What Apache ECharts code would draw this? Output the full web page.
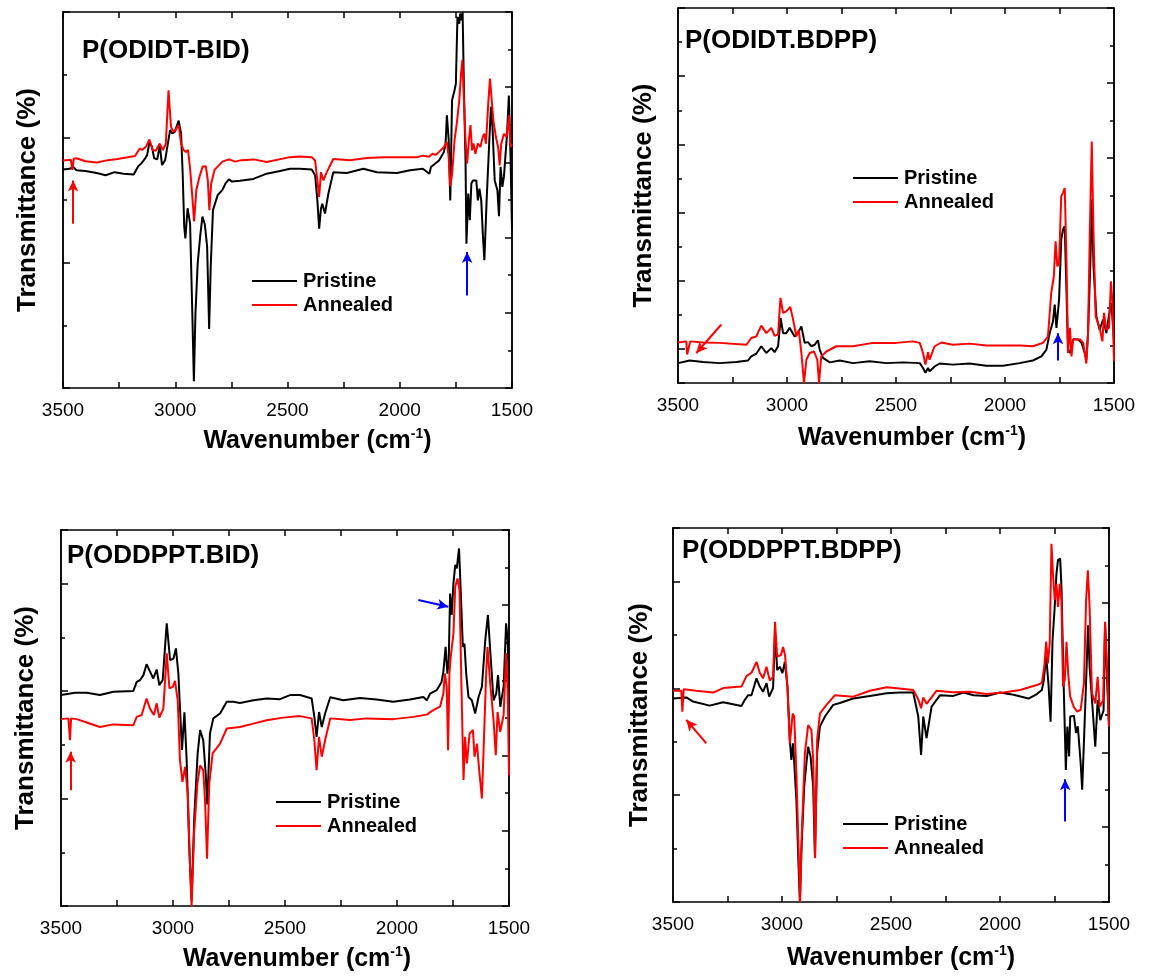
<!DOCTYPE html>
<html>
<head>
<meta charset="utf-8">
<script src="https://cdn.jsdelivr.net/npm/echarts@6.0.0/dist/echarts.min.js"></script>
<style>
html,body{margin:0;padding:0;background:#fff;}
#chart{width:1173px;height:978px;}
</style>
</head>
<body>
<div id="chart"></div>
<script>
// ---------- data (wavenumber cm-1, relative transmittance) ----------
const seriesNames = ['Pristine', 'Annealed'];
const panelTitles = ['P(ODIDT-BID)', 'P(ODIDT.BDPP)', 'P(ODDPPT.BID)', 'P(ODDPPT.BDPP)'];
const xMin = 1500, xMax = 3500, xStep = 500;

const p1Pristine = [[3500,58.1],[3470,58.3],[3455,58.8],[3440,57.9],[3400,57.7],[3350,57.2],[3310,56.6],[3270,57.4],[3230,57.0],[3185,56.8],
[3165,59.0],[3150,59.8],[3135,61.0],[3125,62.0],[3115,65.3],[3104,64.2],[3094,61.1],[3080,60.8],[3069,64.6],[3059,59.3],[3045,60.6],[3033,65.0],[3023,68.6],[3013,67.7],[3002,68.1],[2985,71.1],[2974,67.7],[2967,57.1],[2960,42.9],[2955,39.8],[2945,47.8],[2934,43.8],[2924,19.9],[2917,1.8],[2910,19.9],[2900,33.2],[2889,40.3],[2879,45.6],[2868,43.4],[2858,37.6],[2849,15.7],[2842,32.3],[2832,47.3],[2811,51.3],[2790,52.7],[2776,54.4],[2761,55.5],[2747,54.9],[2712,55.1],[2652,55.6],[2593,57.0],[2533,57.7],[2489,58.3],[2444,58.3],[2392,58.1],[2377,56.6],[2367,49.9],[2359,42.4],[2351,47.7],[2345,49.0],[2333,46.4],[2318,51.7],[2296,57.4],[2236,57.2],[2162,58.3],[2102,57.4],[2013,57.2],[1954,57.9],[1897,58.3],[1868,57.0],[1861,58.8],[1825,60.5],[1803,62.8],[1796,65.0],[1790,72.5],[1782,65.9],[1775,49.9],[1767,76.5],[1756,79.2],[1750,80.9],[1743,98.7],[1735,96.9],[1731,99.6],[1724,97.8],[1720,100],[1714,79.2],[1707,60.5],[1703,38.4],[1695,51.7],[1688,44.6],[1681,54.4],[1674,55.2],[1659,55.2],[1652,49.9],[1645,53.0],[1637,49.9],[1630,41.0],[1623,34.0],[1613,49.9],[1601,65.9],[1594,74.8],[1587,69.5],[1577,55.2],[1565,52.6],[1558,45.7],[1551,58.8],[1543,53.5],[1536,56.2],[1522,67.6],[1514,77.8],[1507,62.8],[1500,41.9]];
const p1Annealed = [[3500,60.5],[3465,60.7],[3458,58.0],[3452,61.0],[3440,61.1],[3400,60.3],[3350,60.0],[3300,60.6],[3257,60.9],[3179,61.7],[3158,63.7],[3147,63.3],[3130,64.2],[3115,66.1],[3101,63.3],[3087,63.1],[3069,65.0],[3055,63.3],[3042,65.0],[3030,79.2],[3019,69.5],[3009,68.1],[2999,68.6],[2985,69.9],[2974,65.0],[2963,63.3],[2953,62.8],[2943,63.3],[2934,58.4],[2924,50.9],[2916,44.3],[2906,52.7],[2892,56.2],[2878,58.9],[2864,59.0],[2855,55.3],[2848,47.3],[2840,54.4],[2825,58.0],[2790,60.2],[2761,60.8],[2733,60.2],[2705,60.6],[2650,60.8],[2593,60.1],[2489,61.4],[2444,61.6],[2392,61.4],[2377,60.5],[2367,55.2],[2359,50.8],[2351,57.4],[2340,55.2],[2325,57.4],[2296,60.9],[2222,60.6],[2147,61.2],[2073,61.4],[1998,61.4],[1923,61.4],[1897,61.8],[1870,61.5],[1854,62.3],[1840,62.0],[1825,62.8],[1803,64.1],[1790,65.4],[1782,61.4],[1775,53.7],[1767,56.7],[1756,65.9],[1746,70.3],[1735,76.5],[1727,83.5],[1721,87.3],[1714,76.5],[1707,65.9],[1700,59.7],[1692,65.9],[1685,69.9],[1678,63.2],[1671,65.0],[1663,62.3],[1652,65.0],[1641,64.1],[1630,66.8],[1623,67.6],[1616,65.0],[1605,76.5],[1598,82.3],[1590,81.9],[1583,71.2],[1572,66.8],[1562,64.1],[1555,59.2],[1548,64.9],[1536,67.6],[1524,66.8],[1519,69.4],[1513,72.5],[1507,64.1],[1500,65.0]];
const p1RedArrow = [[3455,43.7],[3455,55.2]];
const p1BlueArrow = [[1700,24.6],[1700,36.2]];

const p2Pristine = [[3500,5.3],[3446,6.0],[3385,5.6],[3309,5.3],[3232,5.6],[3179,6.0],[3164,7.1],[3141,7.8],[3118,9.8],[3095,8.0],[3072,9.3],[3057,8.2],[3041,9.8],[3029,17.3],[3018,13.3],[3003,13.3],[2988,14.7],[2980,15.1],[2965,12.4],[2950,13.3],[2934,15.1],[2919,10.7],[2904,10.9],[2888,9.8],[2873,10.2],[2858,11.4],[2850,8.9],[2835,6.7],[2804,5.5],[2758,6.0],[2697,5.3],[2621,5.8],[2544,5.3],[2468,5.5],[2391,5.3],[2376,4.0],[2365,2.7],[2353,4.0],[2346,3.1],[2323,4.4],[2300,5.2],[2239,4.9],[2162,5.2],[2086,4.6],[2009,4.6],[1933,5.3],[1872,6.0],[1833,7.1],[1810,8.9],[1795,13.3],[1780,16.4],[1772,20.9],[1764,14.7],[1752,22.2],[1742,38.2],[1734,40.9],[1726,41.8],[1719,26.7],[1711,8.9],[1702,8.0],[1687,11.7],[1664,11.6],[1649,10.7],[1634,8.0],[1627,6.2],[1619,13.3],[1609,31.1],[1601,48.9],[1594,31.1],[1581,17.8],[1566,14.2],[1550,16.9],[1535,13.3],[1519,19.6],[1512,21.3],[1500,11.6]];
const p2Annealed = [[3500,10.8],[3462,11.1],[3458,7.6],[3450,7.6],[3444,11.1],[3385,10.8],[3309,10.7],[3186,10.2],[3164,12.0],[3141,12.4],[3118,15.3],[3095,13.3],[3072,14.7],[3057,12.6],[3041,12.9],[3030,22.7],[3018,18.7],[3003,19.1],[2985,20.3],[2972,16.9],[2957,12.4],[2946,14.2],[2934,8.0],[2922,0],[2911,6.2],[2896,8.0],[2876,8.4],[2861,6.2],[2853,0],[2843,7.1],[2819,8.4],[2774,9.8],[2697,9.8],[2606,10.7],[2499,10.7],[2422,11.1],[2391,10.7],[2376,8.0],[2365,4.9],[2353,8.2],[2346,6.2],[2323,9.8],[2292,10.8],[2239,10.2],[2162,10.5],[2086,10.0],[1933,10.0],[1872,9.8],[1826,10.7],[1803,12.4],[1788,24.0],[1776,28.4],[1768,37.8],[1760,31.1],[1752,32.0],[1742,49.8],[1734,50.7],[1726,52.0],[1719,35.6],[1711,8.0],[1702,14.7],[1695,7.1],[1687,11.6],[1672,11.6],[1656,11.6],[1641,10.7],[1634,8.0],[1627,5.2],[1619,13.3],[1611,40.0],[1602,64.4],[1594,40.0],[1584,17.8],[1566,14.7],[1553,11.1],[1546,18.7],[1535,14.2],[1523,14.7],[1514,27.1],[1508,22.2],[1500,5.8]];
const p2RedArrow = [[3301,15.6],[3416,8.0]];
const p2BlueArrow = [[1757,6.0],[1757,13.3]];

const p3Pristine = [[3500,56.1],[3437,56.7],[3385,56.7],[3326,56.1],[3266,57.0],[3177,57.2],[3162,59.6],[3147,60.1],[3132,61.4],[3118,64.3],[3103,62.4],[3088,60.5],[3073,62.9],[3061,58.7],[3046,60.1],[3028,75.2],[3013,65.4],[2998,65.8],[2987,68.5],[2976,61.8],[2969,53.0],[2960,41.5],[2949,51.5],[2939,38.8],[2927,14.9],[2917,1.5],[2905,23.7],[2890,40.6],[2879,46.8],[2865,44.1],[2854,35.2],[2847,27.0],[2835,45.9],[2820,49.9],[2790,51.2],[2760,54.3],[2731,54.3],[2701,54.0],[2641,54.7],[2582,55.2],[2522,55.0],[2478,56.1],[2433,56.1],[2381,55.2],[2369,50.3],[2359,45.0],[2348,51.6],[2336,47.6],[2321,51.2],[2298,55.5],[2240,54.7],[2165,55.3],[2091,54.9],[2017,54.3],[1942,54.9],[1882,55.6],[1867,54.7],[1852,56.5],[1823,57.4],[1801,59.6],[1793,62.3],[1783,68.9],[1775,61.8],[1769,65.4],[1763,83.1],[1756,77.4],[1748,85.8],[1740,90.7],[1733,89.8],[1723,95.1],[1714,81.4],[1706,68.9],[1699,69.8],[1691,61.8],[1681,55.6],[1666,54.7],[1651,51.2],[1636,55.6],[1621,58.3],[1606,70.7],[1594,77.4],[1584,68.1],[1569,54.7],[1557,56.5],[1549,61.4],[1539,53.0],[1524,58.3],[1513,75.2],[1506,70.7],[1500,57.0]];
const p3Annealed = [[3500,49.7],[3467,49.9],[3460,44.1],[3455,49.9],[3430,49.7],[3385,48.8],[3326,47.6],[3266,48.3],[3177,48.1],[3162,50.3],[3140,50.8],[3118,55.2],[3103,52.5],[3085,50.8],[3073,53.9],[3061,50.1],[3043,52.5],[3028,67.2],[3016,57.9],[3001,58.3],[2991,59.9],[2979,54.7],[2969,38.8],[2958,33.0],[2946,37.0],[2934,29.9],[2924,10.4],[2917,0],[2906,19.3],[2891,32.6],[2879,37.4],[2865,36.1],[2857,28.1],[2848,12.6],[2838,32.6],[2823,40.6],[2790,43.2],[2760,47.2],[2701,47.6],[2641,48.5],[2582,49.4],[2508,50.1],[2433,50.5],[2381,49.9],[2369,44.1],[2359,36.1],[2348,45.0],[2336,39.7],[2321,44.1],[2298,49.9],[2210,49.5],[2135,49.9],[2017,49.7],[1927,50.3],[1867,50.9],[1838,52.1],[1808,53.0],[1793,56.5],[1786,61.8],[1778,58.3],[1772,41.4],[1766,61.8],[1760,66.3],[1748,72.5],[1740,84.9],[1730,87.1],[1721,84.0],[1711,54.7],[1703,33.5],[1696,45.0],[1688,37.9],[1676,45.9],[1661,46.8],[1654,39.7],[1643,43.2],[1633,36.1],[1621,28.6],[1611,45.9],[1602,61.8],[1596,68.9],[1584,59.2],[1569,49.4],[1559,40.1],[1551,51.6],[1539,46.3],[1524,50.8],[1513,67.2],[1506,57.4],[1500,34.8]];
const p3RedArrow = [[3457,30.8],[3457,41.0]];
const p3BlueArrow = [[1905,81.4],[1771,79.6]];

const p4Pristine = [[3500,54.4],[3439,54.7],[3408,53.6],[3332,52.5],[3270,53.4],[3186,52.4],[3171,54.0],[3155,55.3],[3140,55.3],[3117,59.8],[3102,57.6],[3087,56.2],[3071,58.5],[3059,54.9],[3041,57.2],[3032,71.8],[3022,62.0],[3010,62.9],[2998,61.2],[2987,64.2],[2975,57.6],[2964,43.3],[2957,38.0],[2949,42.4],[2941,42.0],[2934,27.2],[2924,9.5],[2918,0],[2911,14.0],[2898,30.9],[2888,37.1],[2880,41.5],[2869,38.9],[2857,30.9],[2849,12.2],[2839,39.8],[2826,46.9],[2803,49.6],[2765,52.7],[2735,53.2],[2673,54.4],[2597,55.1],[2520,55.8],[2459,56.0],[2398,56.0],[2375,49.6],[2362,39.3],[2352,49.6],[2337,43.8],[2314,52.2],[2275,55.3],[2214,55.1],[2168,56.0],[2121,55.3],[2061,55.1],[2000,56.0],[1938,55.4],[1869,54.4],[1831,55.6],[1808,56.7],[1800,59.0],[1788,65.6],[1777,57.8],[1768,48.2],[1759,70.0],[1750,78.0],[1741,87.8],[1734,91.4],[1724,91.8],[1718,84.2],[1710,62.9],[1698,35.3],[1691,46.9],[1683,38.9],[1678,49.6],[1661,49.8],[1651,45.2],[1643,47.0],[1630,37.2],[1623,30.0],[1608,54.0],[1596,74.0],[1589,62.9],[1578,54.0],[1563,41.5],[1552,54.0],[1540,48.6],[1525,51.2],[1518,74.5],[1510,61.0],[1500,46.9]];
const p4Annealed = [[3500,56.5],[3462,56.5],[3457,50.9],[3451,56.9],[3393,56.5],[3316,56.0],[3270,57.2],[3186,57.6],[3163,60.4],[3140,61.3],[3117,64.2],[3102,61.3],[3087,59.8],[3071,62.9],[3056,59.2],[3041,60.2],[3032,74.9],[3022,65.6],[3005,66.0],[2995,68.2],[2986,66.0],[2975,57.6],[2964,42.4],[2951,50.4],[2944,49.6],[2934,34.4],[2924,14.0],[2917,0],[2909,18.4],[2895,39.8],[2880,47.3],[2865,46.0],[2857,38.0],[2848,11.7],[2839,43.3],[2826,50.4],[2796,52.7],[2757,55.3],[2673,54.9],[2597,56.5],[2520,57.4],[2428,56.9],[2398,56.7],[2375,54.2],[2362,51.8],[2352,54.7],[2337,53.0],[2314,54.7],[2291,56.5],[2214,56.1],[2138,56.2],[2061,55.6],[1985,56.0],[1908,56.7],[1831,58.0],[1808,58.6],[1797,62.9],[1788,69.6],[1780,63.8],[1772,69.1],[1764,95.8],[1757,87.8],[1749,80.7],[1741,85.1],[1734,78.9],[1726,85.1],[1718,80.7],[1711,57.6],[1703,59.4],[1695,69.6],[1687,61.0],[1678,54.9],[1662,52.2],[1646,50.9],[1630,51.4],[1615,58.5],[1605,80.7],[1597,88.7],[1589,78.9],[1578,55.8],[1563,53.1],[1552,60.2],[1543,52.2],[1527,53.9],[1518,74.9],[1510,64.6],[1500,46.9]];
const p4RedArrow = [[3347,42.4],[3439,48.7]];
const p4BlueArrow = [[1701,21.5],[1701,32.8]];

// ---------- layout ----------
const FONT = 'Liberation Sans';
const panels = [
  {pristine:p1Pristine, annealed:p1Annealed, arrows:[p1RedArrow,p1BlueArrow], grid:{left:63,top:12,width:449,height:376},
   leftN:6, leftInv:false, rightN:10, title:[82,38], legend:[252,271], xNamePad:60, xGap:39, yGap:22},
  {pristine:p2Pristine, annealed:p2Annealed, arrows:[p2RedArrow,p2BlueArrow], grid:{left:678,top:8,width:436,height:375},
   leftN:11, leftInv:true, rightN:10, title:[685,28], legend:[853,168], xNamePad:32, xGap:41, yGap:21},
  {pristine:p3Pristine, annealed:p3Annealed, arrows:[p3RedArrow,p3BlueArrow], grid:{left:61,top:530,width:448,height:376},
   leftN:7, leftInv:false, rightN:10, title:[67,543], legend:[276,792], xNamePad:24, xGap:39, yGap:22},
  {pristine:p4Pristine, annealed:p4Annealed, arrows:[p4RedArrow,p4BlueArrow], grid:{left:673,top:528,width:436,height:374},
   leftN:7, leftInv:false, rightN:10, title:[682,538], legend:[843,814], xNamePad:20, xGap:42, yGap:20}
];
const arrowColors = ['#ff0000', '#0000ff'];

const axisLineStyle = {color:'#000', width:1.5};
const grids = [], xAxes = [], yAxes = [], series = [], titles = [], legends = [];

panels.forEach((p, i) => {
  grids.push(Object.assign({containLabel:false, outerBoundsMode:'none', show:false}, p.grid));
  const xBase = {
    type:'value', gridIndex:i, min:xMin, max:xMax, interval:xStep, inverse:true,
    axisLine:{show:true, onZero:false, lineStyle:axisLineStyle},
    axisTick:{show:true, inside:true, length:6, lineStyle:axisLineStyle},
    minorTick:{show:true, splitNumber:2, length:6, lineStyle:axisLineStyle},
    splitLine:{show:false}, minorSplitLine:{show:false}
  };
  xAxes.push(Object.assign({}, xBase, {
    position:'bottom',
    axisLabel:{show:true, margin:13, color:'#000', fontSize:19, fontFamily:FONT, showMinLabel:true, showMaxLabel:true,
      formatter:v => String(v)},
    name:'{a|Wavenumber (cm}{b|-1}{a|)}', nameLocation:'middle', nameGap:p.xGap,
    nameTextStyle:{padding:[0,0,0,p.xNamePad], rich:{
      a:{fontSize:25, fontWeight:'bold', color:'#000', fontFamily:FONT},
      b:{fontSize:14, fontWeight:'bold', color:'#000', fontFamily:FONT, padding:[0,0,14,0]}
    }}
  }));
  xAxes.push(Object.assign({}, xBase, {position:'top', axisLabel:{show:false}}));

  const yDecor = (pos, n, inv, interval, len, named) => {
    const ax = {
      type:'value', gridIndex:i, position:pos, min:0, max:n, interval:interval, inverse:inv,
      axisLine:{show:true, onZero:false, lineStyle:axisLineStyle},
      axisTick:{show:true, inside:true, length:len, lineStyle:axisLineStyle},
      axisLabel:{show:false}, splitLine:{show:false}
    };
    if (named) {
      ax.name = 'Transmittance (%)';
      ax.nameLocation = 'middle';
      ax.nameGap = p.yGap;
      ax.nameTextStyle = {fontSize:26, fontWeight:'bold', color:'#000', fontFamily:FONT};
    }
    return ax;
  };
  yAxes.push(yDecor('left', p.leftN, p.leftInv, 1, 4, false));
  yAxes.push(yDecor('left', p.leftN, p.leftInv, 2, 7, true));
  yAxes.push(yDecor('right', p.rightN, false, 1, 4, false));
  yAxes.push(yDecor('right', p.rightN, false, 2, 7, false));
  yAxes.push({type:'value', gridIndex:i, min:0, max:100, show:false, splitLine:{show:false}});
  const dataY = 5 * i + 4;

  series.push({
    name:seriesNames[0], type:'line', xAxisIndex:2*i, yAxisIndex:dataY, data:p.pristine,
    symbol:'none', lineStyle:{color:'#000', width:2}, itemStyle:{color:'#000'}, z:3,
    markLine:{
      silent:true, animation:false, symbol:['none','arrow'], symbolSize:[8,11], precision:4,
      label:{show:false},
      data:p.arrows.map((a, k) => [
        {coord:a[0], lineStyle:{color:arrowColors[k], width:2, type:'solid'}, itemStyle:{color:arrowColors[k]}},
        {coord:a[1]}
      ])
    }
  });
  series.push({
    name:seriesNames[1], type:'line', xAxisIndex:2*i, yAxisIndex:dataY, data:p.annealed,
    symbol:'none', lineStyle:{color:'#ff0000', width:2}, itemStyle:{color:'#ff0000'}, z:4
  });

  titles.push({
    text:panelTitles[i], left:p.title[0], top:p.title[1], padding:0,
    textStyle:{fontSize:26, fontWeight:'bold', color:'#000', fontFamily:FONT}
  });
  legends.push({
    data:seriesNames, orient:'vertical', left:p.legend[0], top:p.legend[1], padding:0,
    icon:'rect', itemWidth:45, itemHeight:2, itemGap:4, selectedMode:false,
    textStyle:{fontSize:20, fontWeight:'bold', color:'#000', fontFamily:FONT, padding:[0,0,0,1]}
  });
});

const chart = echarts.init(document.getElementById('chart'), null, {renderer:'canvas'});
chart.setOption({
  animation:false,
  backgroundColor:'#fff',
  textStyle:{fontFamily:FONT},
  title:titles, legend:legends,
  grid:grids, xAxis:xAxes, yAxis:yAxes, series:series
});
</script>
</body>
</html>
